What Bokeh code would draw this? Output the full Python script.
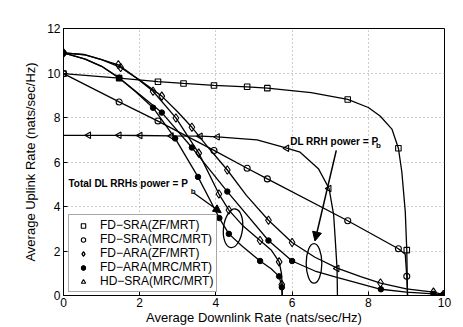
from bokeh.plotting import figure
from bokeh.models import (Legend, LegendItem, Label, Arrow, NormalHead,
                          FixedTicker, Range1d)
from bokeh.embed import file_html
from bokeh.resources import INLINE

# ---------------- data ----------------
# FD-SRA(ZF/MRT)  (squares)
sq_line_x = [0, 1.46, 2.48, 3.15, 3.95, 4.82, 5.35, 6.5, 7.46, 8.0, 8.31, 8.62, 8.79, 8.88, 8.97, 9.01, 9.03]
sq_line_y = [9.97, 9.77, 9.61, 9.53, 9.44, 9.38, 9.32, 9.12, 8.81, 8.45, 8.07, 7.48, 6.62, 5.55, 3.78, 2.04, 0.0]
sq_mark_x = [0, 1.46, 2.48, 3.15, 3.95, 4.82, 5.35, 7.46, 8.79, 9.01]
sq_mark_y = [9.97, 9.77, 9.61, 9.53, 9.44, 9.38, 9.32, 8.81, 6.62, 2.04]

# FD-SRA(MRC/MRT)  (open circles)
ci_line_x = [0, 1.46, 2.48, 3.95, 4.82, 5.35, 7.46, 8.79, 8.97, 9.01, 9.03]
ci_line_y = [9.97, 8.70, 7.84, 6.52, 5.72, 5.24, 3.36, 2.10, 1.85, 0.86, 0.0]
ci_mark_x = [0, 1.46, 2.48, 3.95, 4.82, 5.35, 7.46, 8.79, 9.01]
ci_mark_y = [9.97, 8.70, 7.84, 6.52, 5.72, 5.24, 3.36, 2.10, 0.86]

# FD-ARA(ZF/MRT)  (diamonds) - DL RRH power = Pb
dia_o_line_x = [0, 0.57, 1.0, 1.50, 2.0, 2.58, 3.0, 3.37, 3.8, 4.30, 4.8, 5.38, 6.0, 6.6, 7.2, 7.8, 8.32, 9.0, 9.71, 9.97]
dia_o_line_y = [10.9, 10.82, 10.6, 10.25, 9.68, 8.96, 8.25, 7.56, 6.65, 5.64, 4.5, 3.38, 2.38, 1.72, 1.22, 0.85, 0.56, 0.3, 0.15, 0.04]
dia_o_mark_x = [0, 1.50, 2.58, 3.37, 4.30, 5.38, 6.0, 8.32, 9.71, 9.97]
dia_o_mark_y = [10.9, 10.25, 8.96, 7.56, 5.64, 3.38, 2.38, 0.56, 0.15, 0.04]
# FD-ARA(ZF/MRT)  (diamonds) - total DL RRHs power = Pb
dia_i_line_x = [0, 0.57, 1.0, 1.44, 1.9, 2.35, 2.95, 3.55, 4.08, 4.34, 4.7, 5.16, 5.45, 5.66, 5.72, 5.74, 5.74]
dia_i_line_y = [10.9, 10.82, 10.6, 10.37, 9.8, 9.18, 7.98, 6.4, 4.56, 3.84, 3.15, 2.47, 2.05, 1.51, 1.0, 0.49, 0.0]
dia_i_mark_x = [0, 1.44, 2.35, 2.95, 3.55, 4.08, 4.34, 5.16, 5.66, 5.73]
dia_i_mark_y = [10.9, 10.37, 9.18, 7.98, 6.4, 4.56, 3.84, 2.47, 1.51, 0.49]

# FD-ARA(MRC/MRT)  (filled circles) - DL RRH power = Pb
fc_o_line_x = [0, 0.57, 1.0, 1.46, 2.0, 2.58, 3.37, 4.30, 5.38, 6.0, 6.6, 7.2, 8.33, 9.0, 9.71, 9.96]
fc_o_line_y = [10.9, 10.62, 10.3, 9.78, 9.03, 8.22, 6.65, 4.67, 2.47, 1.55, 1.1, 0.8, 0.28, 0.15, 0.07, 0.03]
fc_o_mark_x = [0, 1.46, 2.58, 3.37, 4.30, 5.38, 6.0, 8.33, 9.71, 9.96]
fc_o_mark_y = [10.9, 9.78, 8.22, 6.65, 4.67, 2.47, 1.55, 0.28, 0.07, 0.03]
# FD-ARA(MRC/MRT)  (filled circles) - total DL RRHs power = Pb
fc_i_line_x = [0, 0.57, 1.0, 1.46, 1.9, 2.35, 2.93, 3.53, 4.09, 4.34, 4.7, 5.16, 5.45, 5.66, 5.73, 5.74]
fc_i_line_y = [10.9, 10.62, 10.3, 9.78, 9.15, 8.44, 7.06, 5.33, 3.48, 2.77, 2.2, 1.55, 1.2, 0.86, 0.4, 0.0]
fc_i_mark_x = [0, 1.46, 2.35, 2.93, 3.53, 4.09, 4.34, 5.16, 5.66, 5.73]
fc_i_mark_y = [10.9, 9.78, 8.44, 7.06, 5.33, 3.48, 2.77, 1.55, 0.86, 0.37]

# HD-SRA(MRC/MRT)  (left triangles)
tr_line_x = [0, 0.66, 1.46, 2.01, 2.83, 3.59, 4.04, 5.08, 5.86, 6.21, 6.69, 6.97, 7.09, 7.13, 7.18, 7.19]
tr_line_y = [7.2, 7.2, 7.2, 7.19, 7.17, 7.16, 7.13, 6.99, 6.62, 6.44, 5.70, 4.81, 3.63, 2.59, 1.21, 0.0]
tr_mark_x = [0.66, 1.46, 2.01, 2.83, 3.59, 4.04, 5.86, 6.97, 7.18]
tr_mark_y = [7.2, 7.2, 7.19, 7.17, 7.16, 7.13, 6.62, 4.81, 1.21]

series_labels = ["FD\u2212SRA(ZF/MRT)", "FD\u2212SRA(MRC/MRT)", "FD\u2212ARA(ZF/MRT)",
                 "FD\u2212ARA(MRC/MRT)", "HD\u2212SRA(MRC/MRT)"]
x_ticks = [0, 2, 4, 6, 8, 10]
y_ticks = [0, 2, 4, 6, 8, 10, 12]

# annotations (data coordinates)
dl_text = "DL RRH power = P"
dl_text_xy = (5.95, 6.92)
dl_sub_xy = (8.2, 6.72)
tot_text = "Total DL RRHs power = P"
tot_text_xy = (0.13, 5.04)
tot_sub_xy = (3.34, 4.66)
dl_arrow = (7.16, 6.52, 6.6, 2.45)
tot_arrow = (3.41, 4.62, 4.14, 3.72)
dl_ellipse = (6.575, 1.44, 0.41, 1.78)
tot_ellipse = (4.45, 3.02, 0.5, 1.75)

FONT = "Liberation Sans"

p = figure(width=463, height=327, x_range=Range1d(0, 10), y_range=Range1d(0, 12),
           output_backend="svg", toolbar_location=None,
           min_border_left=63, min_border_right=19, min_border_top=28, min_border_bottom=29)
p.background_fill_color = "white"
p.border_fill_color = "white"
p.outline_line_color = "black"
p.outline_line_width = 1

for ax in (p.xaxis[0], p.yaxis[0]):
    ax.major_tick_in = 4
    ax.major_tick_out = 0
    ax.minor_tick_line_color = None
    ax.major_label_text_font = FONT
    ax.major_label_text_font_size = "12px"
    ax.major_label_text_color = "black"
    ax.axis_label_text_font = FONT
    ax.axis_label_text_font_size = "13px"
    ax.axis_label_text_font_style = "normal"
    ax.axis_label_text_color = "black"
    ax.axis_line_color = "black"
    ax.major_tick_line_color = "black"
p.xaxis.ticker = FixedTicker(ticks=x_ticks)
p.yaxis.ticker = FixedTicker(ticks=y_ticks)
p.xaxis.axis_label = "Average Downlink Rate (nats/sec/Hz)"
p.yaxis.axis_label = "Average Uplink Rate (nats/sec/Hz)"
p.xaxis.major_label_standoff = 2
p.xaxis.axis_label_standoff = 0
p.yaxis.major_label_standoff = 3
p.yaxis.axis_label_standoff = 6

for g in (p.xgrid[0], p.ygrid[0]):
    g.grid_line_color = "#9a9a9a"
    g.grid_line_dash = "1 3"
    g.grid_line_width = 1

LW = 1.3
lines = [(sq_line_x, sq_line_y), (ci_line_x, ci_line_y),
         (dia_o_line_x, dia_o_line_y), (dia_i_line_x, dia_i_line_y),
         (fc_o_line_x, fc_o_line_y), (fc_i_line_x, fc_i_line_y),
         (tr_line_x, tr_line_y)]
for lx, ly in lines:
    p.line(lx, ly, line_color="black", line_width=LW)

r_sq = p.scatter(sq_mark_x, sq_mark_y, marker="square", size=5.5,
                 line_color="black", fill_alpha=0, line_width=1.1)
r_ci = p.scatter(ci_mark_x, ci_mark_y, marker="circle", size=6,
                 line_color="black", fill_alpha=0, line_width=1.1)
r_dia_o = p.scatter(dia_o_mark_x, dia_o_mark_y, marker="diamond", size=8.5,
                    line_color="black", fill_alpha=0, line_width=1.1)
r_dia_i = p.scatter(dia_i_mark_x, dia_i_mark_y, marker="diamond", size=8.5,
                    line_color="black", fill_alpha=0, line_width=1.1)
r_fc_o = p.scatter(fc_o_mark_x, fc_o_mark_y, marker="circle", size=5.5,
                   line_color="black", fill_color="black", line_width=1)
r_fc_i = p.scatter(fc_i_mark_x, fc_i_mark_y, marker="circle", size=5.5,
                   line_color="black", fill_color="black", line_width=1)
r_tr = p.scatter(tr_mark_x, tr_mark_y, marker="triangle", size=6.5, angle=1.5708,
                 line_color="black", fill_alpha=0, line_width=1.1)

# ellipses
p.ellipse(x=[dl_ellipse[0]], y=[dl_ellipse[1]], width=[dl_ellipse[2]], height=[dl_ellipse[3]],
          fill_alpha=0, line_color="black", line_width=1.3)
p.ellipse(x=[tot_ellipse[0]], y=[tot_ellipse[1]], width=[tot_ellipse[2]], height=[tot_ellipse[3]],
          angle=-0.12, fill_alpha=0, line_color="black", line_width=1.3)

# arrows
p.add_layout(Arrow(end=NormalHead(size=9, fill_color="black", line_color="black"),
                   x_start=dl_arrow[0], y_start=dl_arrow[1], x_end=dl_arrow[2], y_end=dl_arrow[3],
                   line_width=1.5, line_color="black"))
p.add_layout(Arrow(end=NormalHead(size=8, fill_color="black", line_color="black"),
                   x_start=tot_arrow[0], y_start=tot_arrow[1], x_end=tot_arrow[2], y_end=tot_arrow[3],
                   line_width=1.3, line_color="black"))

# texts
for txt, xy, size in [(dl_text, dl_text_xy, "10px"), (tot_text, tot_text_xy, "10px"),
                      ("b", dl_sub_xy, "8px"), ("b", tot_sub_xy, "8px")]:
    p.add_layout(Label(x=xy[0], y=xy[1], text=txt, text_font=FONT, text_font_size=size,
                       text_font_style="bold", text_baseline="middle", text_color="black"))

legend = Legend(items=[
    LegendItem(label=series_labels[0], renderers=[r_sq]),
    LegendItem(label=series_labels[1], renderers=[r_ci]),
    LegendItem(label=series_labels[2], renderers=[r_dia_o, r_dia_i]),
    LegendItem(label=series_labels[3], renderers=[r_fc_o, r_fc_i]),
    LegendItem(label=series_labels[4], renderers=[r_tr]),
], location=(5, 3))
legend.label_text_font = FONT
legend.label_text_font_size = "12px"
legend.label_text_color = "black"
legend.label_height = 11
legend.glyph_height = 11
legend.glyph_width = 22
legend.label_standoff = 6
legend.spacing = 0
legend.padding = 3
legend.margin = 0
legend.border_line_color = "#505050"
legend.border_line_width = 1.5
legend.background_fill_color = "white"
legend.background_fill_alpha = 1
p.add_layout(legend, "center")

open("out.html", "w").write(file_html(p, INLINE))
